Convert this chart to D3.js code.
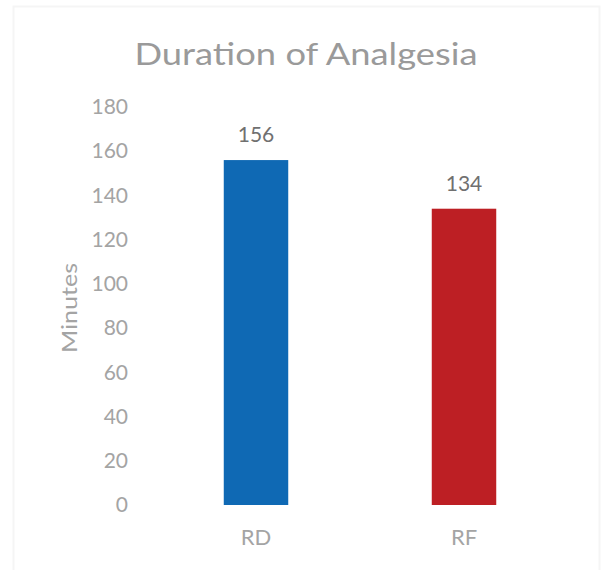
<!DOCTYPE html>
<html>
<head>
<meta charset="utf-8">
<script src="https://cdn.jsdelivr.net/npm/d3@7"></script>
<style>
  html, body { margin: 0; padding: 0; background: #fff; }
  svg { display: block; }
  text { font-family: Lato, "Open Sans", sans-serif; }
</style>
</head>
<body>
<svg id="chart" width="604" height="570"></svg>
<script>
// Duration of analgesia by group (minutes)
const categories = ["RD", "RF"];
const durations = [156, 134];
const barColors = ["#0f69b4", "#bd1f24"];
const yTicks = [0, 20, 40, 60, 80, 100, 120, 140, 160, 180];

const svg = d3.select("#chart");
const W = 604, H = 570;

// faint outer frame
svg.append("rect")
  .attr("x", 13.5).attr("y", 6.5)
  .attr("width", W - 18).attr("height", H - 4)
  .attr("fill", "none").attr("stroke", "#f5f5f5").attr("stroke-width", 2);

const x = d3.scaleBand()
  .domain(categories)
  .range([152, 568])
  .paddingInner(0.69)
  .paddingOuter(0.345);

const y = d3.scaleLinear()
  .domain([0, 180])
  .range([505, 107]);

// title
svg.append("text")
  .attr("x", 306).attr("y", 65)
  .attr("text-anchor", "middle")
  .attr("font-size", 31)
  .attr("textLength", 343)
  .attr("lengthAdjust", "spacingAndGlyphs")
  .attr("fill", "#9a9a9a")
  .text("Duration of Analgesia");

// y axis labels (no line, no ticks)
const yAxis = d3.axisLeft(y).tickValues(yTicks).tickSize(0).tickPadding(0);
const gy = svg.append("g").attr("transform", "translate(128,0)").call(yAxis);
gy.select(".domain").remove();
gy.selectAll("text")
  .attr("font-family", "Lato, 'Open Sans', sans-serif")
  .attr("font-size", 21)
  .attr("fill", "#a4a4a4");

// y axis title
svg.append("text")
  .attr("transform", "translate(77,308) rotate(-90)")
  .attr("text-anchor", "middle")
  .attr("font-size", 22)
  .attr("textLength", 90)
  .attr("lengthAdjust", "spacingAndGlyphs")
  .attr("fill", "#a4a4a4")
  .text("Minutes");

// x axis labels
const xAxis = d3.axisBottom(x).tickSize(0).tickPadding(0);
const gx = svg.append("g").attr("transform", "translate(0,0)").call(xAxis);
gx.select(".domain").remove();
gx.selectAll("text")
  .attr("font-family", "Lato, 'Open Sans', sans-serif")
  .attr("font-size", 22)
  .attr("fill", "#a4a4a4")
  .attr("y", 545)
  .attr("dy", null);

// bars
svg.selectAll("rect.bar")
  .data(durations)
  .join("rect")
  .attr("class", "bar")
  .attr("x", (d, i) => x(categories[i]))
  .attr("y", d => y(d))
  .attr("width", x.bandwidth())
  .attr("height", d => y(0) - y(d))
  .attr("fill", (d, i) => barColors[i]);

// value labels
svg.selectAll("text.val")
  .data(durations)
  .join("text")
  .attr("class", "val")
  .attr("x", (d, i) => x(categories[i]) + x.bandwidth() / 2)
  .attr("y", d => y(d) - 18)
  .attr("text-anchor", "middle")
  .attr("font-size", 21)
  .attr("fill", "#707070")
  .text(d => d);
</script>
</body>
</html>
